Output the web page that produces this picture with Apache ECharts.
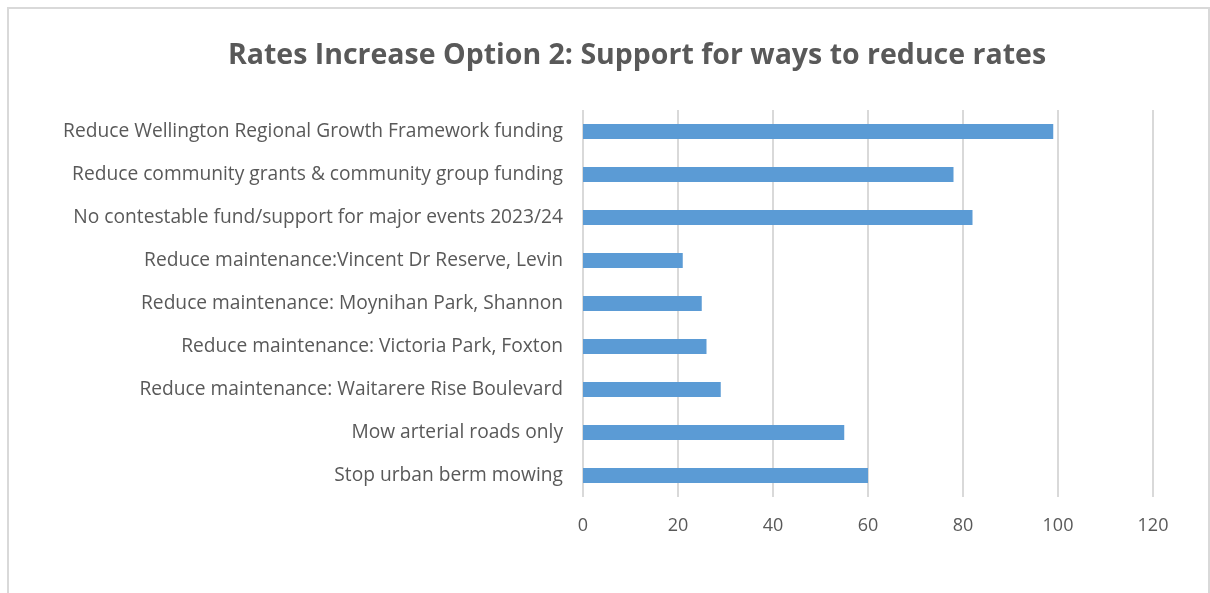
<!DOCTYPE html>
<html>
<head>
<meta charset="utf-8">
<script src="https://cdn.jsdelivr.net/npm/echarts@6/dist/echarts.min.js"></script>
<style>
  html, body { margin: 0; padding: 0; background: #ffffff; }
  #chart { width: 1210px; height: 593px; }
</style>
</head>
<body>
<div id="chart"></div>
<script>
// Options listed top to bottom as they appear on the chart
const categories = [
  'Reduce Wellington Regional Growth Framework funding',
  'Reduce community grants & community group funding',
  'No contestable fund/support for major events 2023/24',
  'Reduce maintenance:Vincent Dr Reserve, Levin',
  'Reduce maintenance: Moynihan Park, Shannon',
  'Reduce maintenance: Victoria Park, Foxton',
  'Reduce maintenance: Waitarere Rise Boulevard',
  'Mow arterial roads only',
  'Stop urban berm mowing'
];
const supportCounts = [99, 78, 82, 21, 25, 26, 29, 55, 60];
const axisTicks = [0, 20, 40, 60, 80, 100, 120];

const FONT = '"Open Sans", Lato, sans-serif';
const TEXT = '#595959';

const chart = echarts.init(document.getElementById('chart'), null, { renderer: 'canvas' });
chart.setOption({
  backgroundColor: '#ffffff',
  animation: false,
  title: {
    text: 'Rates Increase Option 2: Support for ways to reduce rates',
    left: 632,
    textAlign: 'center',
    top: 36,
    textStyle: { fontFamily: FONT, fontSize: 28.5, fontWeight: 'bold', color: TEXT }
  },
  graphic: [{
    type: 'rect',
    shape: { x: 8, y: 8, width: 1201, height: 600 },
    style: { fill: 'none', stroke: '#D9D9D9', lineWidth: 2 },
    silent: true,
    z: -1
  }],
  grid: { left: 583, right: 57, top: 110, bottom: 96, containLabel: false },
  xAxis: {
    type: 'value',
    min: axisTicks[0],
    max: axisTicks[axisTicks.length - 1],
    interval: axisTicks[1] - axisTicks[0],
    axisLine: { show: false },
    axisTick: { show: false },
    splitLine: { show: true, lineStyle: { color: '#D9D9D9', width: 2 } },
    axisLabel: { fontFamily: FONT, fontSize: 18, color: TEXT, margin: 20 }
  },
  yAxis: {
    type: 'category',
    inverse: true,
    data: categories,
    axisLine: { show: false },
    axisTick: { show: false },
    axisLabel: { fontFamily: FONT, fontSize: 19.2, color: TEXT, margin: 20 }
  },
  series: [{
    type: 'bar',
    data: supportCounts,
    barWidth: 15,
    itemStyle: { color: '#5B9BD5' }
  }]
});
</script>
</body>
</html>
